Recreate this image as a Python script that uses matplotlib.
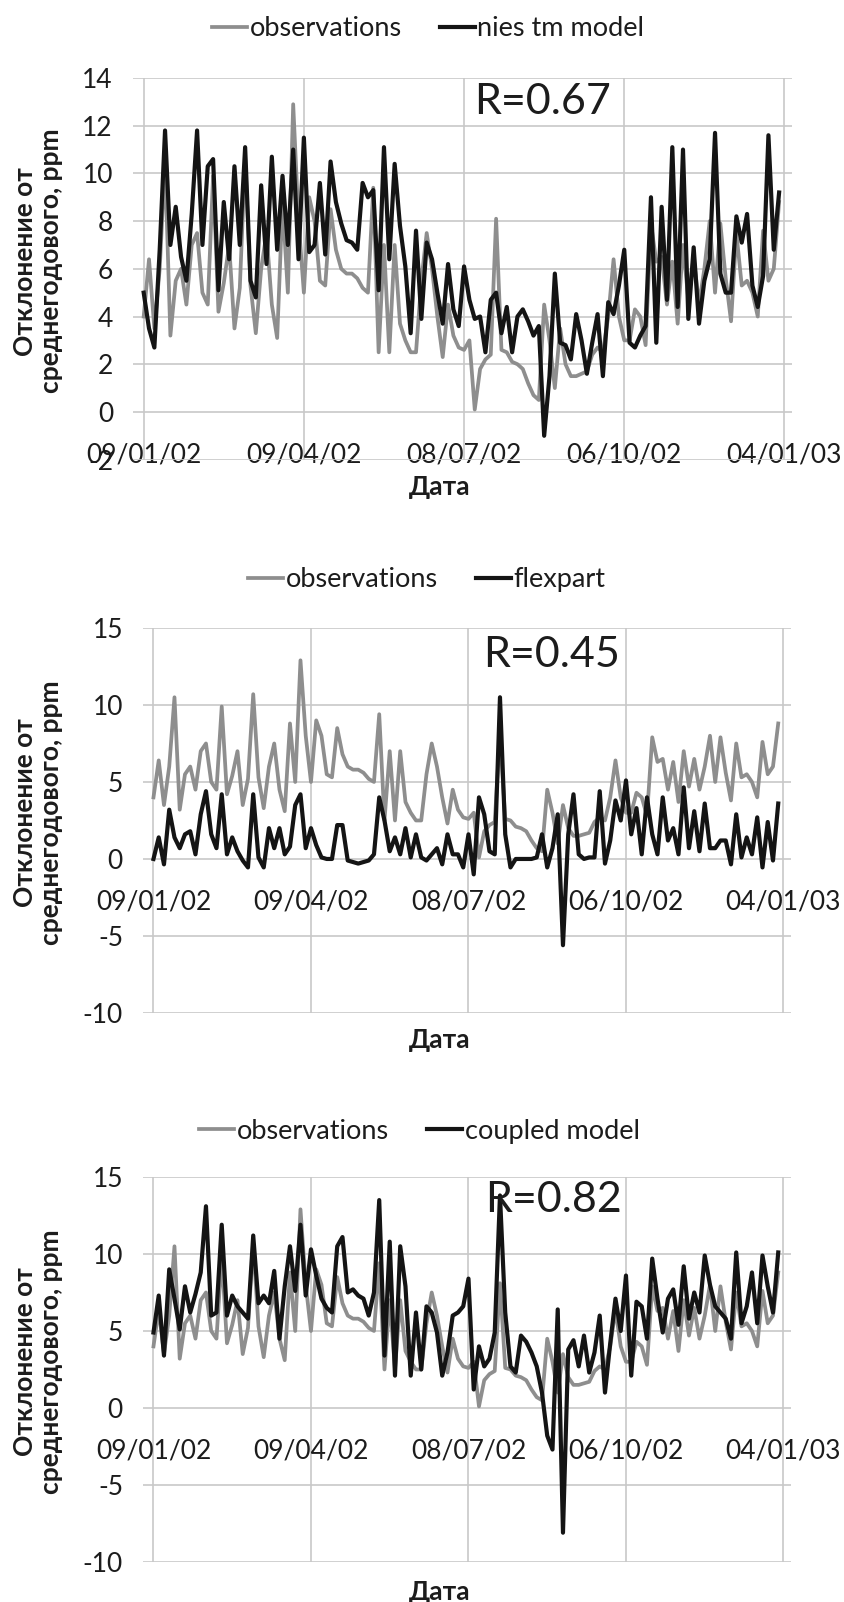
import numpy as np
import pandas as pd
import matplotlib
matplotlib.use('Agg')
import matplotlib.pyplot as plt
import matplotlib.dates as mdates

plt.rcParams['font.family'] = ['Lato', 'Open Sans', 'DejaVu Sans']
plt.rcParams['axes.unicode_minus'] = False

# daily series, one value every 3 days from 09/01/02
start = pd.Timestamp('2002-01-09')
step_days = 3

observations = [
    4.0, 6.4, 3.5, 6.0, 10.5, 3.2, 5.5, 6.0, 4.5, 7.0,
    7.5, 5.0, 4.5, 9.9, 4.2, 5.4, 7.0, 3.5, 5.2, 10.7,
    5.3, 3.3, 6.0, 7.5, 4.5, 3.1, 8.8, 5.0, 12.9, 8.0,
    5.0, 9.0, 8.0, 5.5, 5.3, 8.5, 6.8, 6.0, 5.8, 5.8,
    5.6, 5.2, 5.0, 9.4, 2.5, 7.0, 2.5, 7.0, 3.7, 3.0,
    2.5, 2.5, 5.5, 7.5, 6.0, 4.0, 2.3, 4.5, 3.2, 2.7,
    2.6, 3.0, 0.1, 1.8, 2.2, 2.4, 8.1, 2.6, 2.5, 2.1,
    2.0, 1.8, 1.2, 0.7, 0.5, 4.5, 3.0, 1.0, 3.5, 2.0,
    1.5, 1.5, 1.6, 1.7, 2.4, 2.7, 2.5, 4.0, 6.4, 4.0,
    3.0, 3.0, 4.3, 4.0, 2.8, 7.9, 6.3, 6.5, 4.5, 6.3,
    3.7, 7.0, 4.7, 6.5, 4.5, 6.0, 8.0, 5.0, 7.9, 5.6,
    3.8, 7.5, 5.3, 5.5, 5.0, 4.0, 7.6, 5.5, 6.0, 8.8,
]

nies_tm = [
    5.0, 3.5, 2.7, 6.8, 11.8, 7.0, 8.6, 6.5, 5.5, 8.3,
    11.8, 7.0, 10.3, 10.6, 5.1, 8.8, 6.4, 10.3, 7.0, 11.1,
    5.5, 4.8, 9.5, 6.2, 10.7, 6.8, 9.9, 7.0, 11.0, 6.4,
    11.5, 6.7, 7.0, 9.6, 6.6, 10.5, 8.8, 7.9, 7.2, 7.1,
    6.8, 9.6, 9.0, 9.3, 5.1, 11.1, 6.4, 10.4, 7.8, 6.1,
    3.3, 7.6, 3.9, 7.1, 6.4, 5.0, 3.7, 6.2, 4.3, 3.6,
    6.1, 4.7, 3.9, 4.0, 2.5, 4.7, 5.0, 3.3, 4.4, 2.5,
    4.0, 4.3, 3.8, 3.2, 3.6, -1.0, 1.5, 5.8, 2.9, 2.8,
    2.2, 4.1, 3.0, 1.6, 2.9, 4.1, 1.5, 4.6, 4.1, 5.3,
    6.8, 2.9, 2.7, 3.2, 3.6, 9.0, 2.9, 8.6, 4.7, 11.1,
    4.4, 11.0, 3.9, 6.9, 3.7, 5.5, 6.4, 11.7, 5.8, 5.0,
    5.0, 8.2, 7.1, 8.3, 5.3, 4.4, 5.7, 11.6, 6.8, 9.2,
]

flexpart = [
    0.0, 1.4, -0.35, 3.2, 1.4, 0.7, 1.6, 1.8, 0.3, 2.9,
    4.4, 1.6, 0.7, 4.2, 0.3, 1.4, 0.5, -0.1, -0.55, 4.2,
    0.1, -0.55, 2.0, 0.7, 2.0, 0.3, 0.8, 3.5, 4.2, 0.7,
    2.0, 0.9, 0.1, 0.0, 0.0, 2.2, 2.2, -0.1, -0.2, -0.3,
    -0.2, -0.1, 0.3, 4.0, 2.5, 0.5, 1.4, 0.3, 2.0, 0.1,
    1.6, 0.1, -0.1, 0.3, 0.7, -0.35, 1.6, 0.3, 0.3, -0.55,
    1.6, -1.0, 4.0, 2.9, 0.5, 0.3, 10.5, 1.6, -0.55, 0.0,
    0.0, 0.0, 0.0, 0.1, 1.6, -0.55, 0.7, 2.9, -5.6, 1.6,
    4.2, 0.3, 0.0, 0.1, 0.1, 4.4, -0.3, 1.2, 3.8, 2.5,
    5.1, 1.6, 3.3, 0.3, 4.0, 1.6, 0.3, 4.0, 1.2, 2.0,
    0.3, 4.65, 0.7, 3.1, 0.5, 3.6, 0.7, 0.7, 1.2, 1.2,
    -0.35, 2.9, 0.1, 1.4, 0.3, 2.7, -0.55, 2.4, -0.1, 3.6,
]

coupled = [
    4.9, 7.3, 3.4, 9.0, 7.1, 5.1, 7.9, 6.2, 7.4, 8.8,
    13.1, 6.0, 6.2, 11.9, 6.0, 7.3, 6.6, 6.2, 5.8, 11.2,
    6.8, 7.3, 6.8, 8.9, 4.5, 7.9, 10.5, 7.6, 11.9, 7.3,
    10.3, 8.6, 7.1, 6.5, 6.2, 10.5, 11.1, 7.5, 7.7, 7.3,
    7.1, 6.0, 7.5, 13.5, 3.4, 10.8, 2.1, 10.5, 7.9, 2.1,
    6.2, 2.5, 6.6, 6.2, 4.9, 2.1, 3.6, 6.0, 6.2, 6.6,
    8.4, 1.2, 4.0, 2.7, 3.2, 4.9, 13.8, 6.2, 2.7, 2.3,
    4.7, 4.3, 3.6, 2.7, 1.0, -1.8, -2.7, 6.4, -8.1, 3.8,
    4.4, 2.7, 4.7, 2.3, 3.6, 6.0, 1.0, 4.2, 7.1, 5.0,
    8.6, 2.1, 6.9, 6.6, 4.5, 9.7, 7.1, 4.9, 7.1, 7.7,
    5.4, 9.2, 5.8, 7.5, 6.2, 9.9, 8.0, 6.6, 6.2, 5.8,
    4.5, 10.1, 5.5, 6.6, 8.8, 5.5, 9.9, 7.9, 6.2, 10.1,
]

tick_dates = pd.to_datetime(['2002-01-09', '2002-04-09', '2002-07-08',
                             '2002-10-06', '2003-01-04'])
dates = pd.date_range(start, periods=len(observations), freq=f'{step_days}D')

GRAY = '#8e8e8e'
BLACK = '#141414'
TEXT = '#1c1c1c'

panels = [
    dict(model=nies_tm, name='nies tm model', r='R=0.67', ylim=(-2, 14),
         yticks=np.arange(-2, 15, 2), rect=[0.1574, 0.7131, 0.7800, 0.2382],
         rpos=(0.621, 0.938), leg=(0.5065, 0.982), xlab=(0.466, -0.073), ylab=-0.144),
    dict(model=flexpart, name='flexpart', r='R=0.45', ylim=(-10, 15),
         yticks=np.arange(-10, 16, 5), rect=[0.1692, 0.3677, 0.7669, 0.2403],
         rpos=(0.631, 0.930), leg=(0.505, 0.638), xlab=(0.458, -0.070), ylab=-0.162),
    dict(model=coupled, name='coupled model', r='R=0.82', ylim=(-10, 15),
         yticks=np.arange(-10, 16, 5), rect=[0.1692, 0.0250, 0.7669, 0.2403],
         rpos=(0.633, 0.940), leg=(0.496, 0.294), xlab=(0.458, -0.078), ylab=-0.162),
]

fig = plt.figure(figsize=(8.45, 16.02), dpi=100)

for p in panels:
    ax = fig.add_axes(p['rect'])
    ax.plot(dates, observations, color=GRAY, lw=2.7, label='observations',
            solid_joinstyle='round')
    ax.plot(dates, p['model'], color=BLACK, lw=3.0, label=p['name'],
            solid_joinstyle='round')

    ax.set_xlim(start - pd.Timedelta(days=6), start + pd.Timedelta(days=364.3))
    ax.set_ylim(*p['ylim'])
    ax.set_yticks(p['yticks'])
    ax.set_xticks(tick_dates)
    ax.xaxis.set_major_formatter(mdates.DateFormatter('%d/%m/%y'))

    ax.grid(True, color='#c8c8c8', lw=1.2)
    ax.set_axisbelow(True)
    for s in ax.spines.values():
        s.set_visible(False)
    ax.spines['bottom'].set_position(('data', 0))
    ax.tick_params(length=0, labelsize=19, labelcolor=TEXT)
    ax.tick_params(axis='x', pad=22)
    ax.tick_params(axis='y', pad=14.4)

    ax.set_xlabel('Дата', fontsize=19, fontweight='bold', color=TEXT, va='center')
    ax.xaxis.set_label_coords(*p['xlab'])
    ax.set_ylabel('Отклонение от\nсреднегодового, ppm', fontsize=19,
                  fontweight='bold', color=TEXT, linespacing=1.1, va='center')
    ax.yaxis.set_label_coords(p['ylab'], 0.52)

    ax.text(*p['rpos'], p['r'], transform=ax.transAxes, fontsize=31,
            ha='center', va='center', color=TEXT)
    ax.legend(loc='center', bbox_to_anchor=p['leg'], bbox_transform=fig.transFigure,
              ncol=2, frameon=False, fontsize=19.5, handlelength=1.3,
              handletextpad=0.1, columnspacing=1.4, labelcolor=TEXT)

fig.savefig('out.png', dpi=100)
